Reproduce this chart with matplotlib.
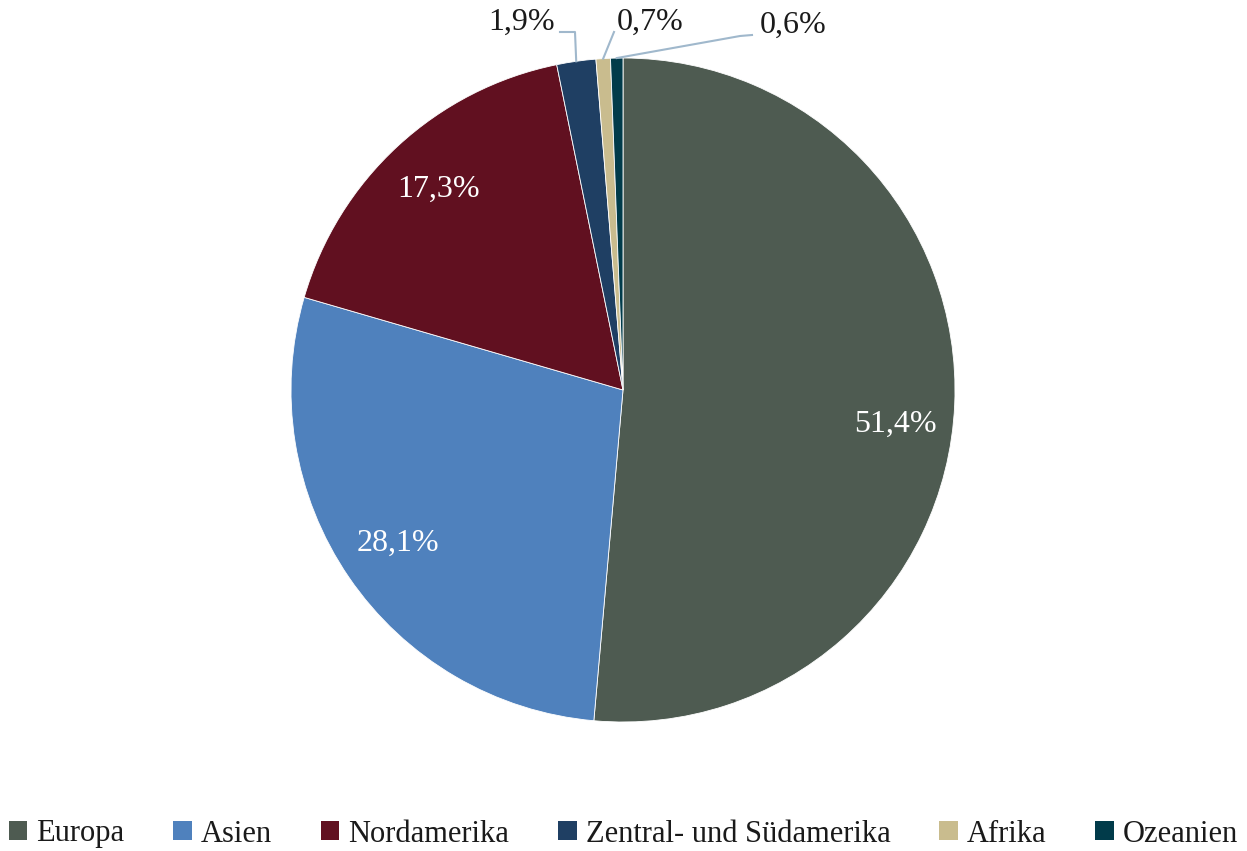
import numpy as np
import matplotlib
matplotlib.use('Agg')
import matplotlib.pyplot as plt
from matplotlib.patches import Patch

regions = ['Europa', 'Asien', 'Nordamerika', 'Zentral- und Südamerika', 'Afrika', 'Ozeanien']
shares = [51.4, 28.1, 17.3, 1.9, 0.7, 0.6]
colors = ['#4E5B51', '#4F81BD', '#611020', '#1F3F63', '#C9BC8E', '#013B4A']

plt.rcParams['font.family'] = ['Liberation Serif', 'DejaVu Serif']

W, H = 1247, 851
fig = plt.figure(figsize=(W / 100, H / 100), dpi=100)
ax = fig.add_axes([0, 0, 1, 1])

cx, cy, r = 623, H - 390, 332


def pct(p):
    return ('%.1f%%' % p).replace('.', ',')


wedges, texts, autotexts = ax.pie(shares, colors=colors, startangle=90, counterclock=False,
                                  center=(cx, cy), radius=r,
                                  autopct=lambda p: pct(p) if p > 5 else '', pctdistance=0.82,
                                  wedgeprops=dict(edgecolor='white', linewidth=0.6),
                                  textprops=dict(color='white', fontsize=23))
ax.set_xlim(0, W)
ax.set_ylim(0, H)
ax.set_aspect('equal')
ax.axis('off')
# Europa label sits a bit lower in the original
autotexts[0].set_y(H - 424)

# labels for the small slices, with leader lines
small = {3: ((522, 22), [(560, 32), (575, 32)]),
         4: ((650, 22), [(614, 32)]),
         5: ((793, 25), [(752, 35), (740, 36)])}
for i, (pos, pts) in small.items():
    w = wedges[i]
    ang = np.deg2rad((w.theta1 + w.theta2) / 2)
    ex, ey = cx + r * np.cos(ang), cy + r * np.sin(ang)
    xs = [p[0] for p in pts] + [ex]
    ys = [H - p[1] for p in pts] + [ey]
    ax.plot(xs, ys, color='#A0B8CC', lw=1.5)
    ax.text(pos[0], H - pos[1], pct(shares[i]), ha='center', va='center',
            fontsize=23, color='#1a1a1a')

handles = [Patch(facecolor=c, edgecolor='none') for c in colors]
fig.legend(handles, regions, loc='center', bbox_to_anchor=(0.5, 1 - 834 / H), ncol=6,
           frameon=False, fontsize=22, handlelength=0.6, handleheight=0.6,
           handletextpad=0.3, columnspacing=1.6, labelcolor='#1a1a1a')

fig.savefig('out.png', dpi=100)
